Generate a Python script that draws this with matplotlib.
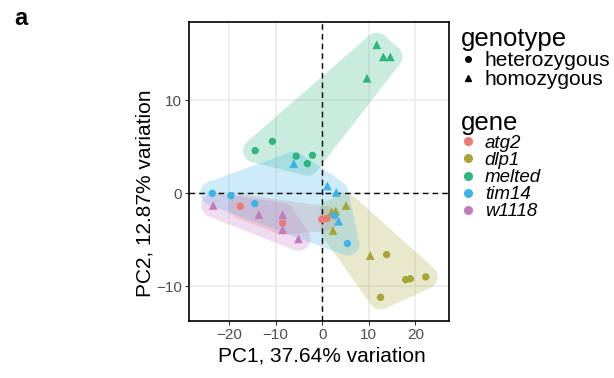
import matplotlib
matplotlib.use("Agg")
import matplotlib.pyplot as plt
import numpy as np
from matplotlib.lines import Line2D
from matplotlib.patches import Polygon

plt.rcParams["font.family"] = ["Liberation Sans", "DejaVu Sans"]

# PCA scores, per gene and genotype
GENES = ["atg2", "dlp1", "melted", "tim14", "w1118"]
COLORS = ["#EC7A72", "#A5A536", "#2DB67E", "#3DB2E8", "#C27BC0"]

atg2_het_x = [-17.6, -8.5, -0.1, 1.0]
atg2_het_y = [-1.4, -3.2, -2.8, -2.7]
atg2_hom_x = []
atg2_hom_y = []

dlp1_het_x = [13.8, 17.9, 18.9, 22.2, 12.5]
dlp1_het_y = [-6.6, -9.3, -9.2, -9.0, -11.2]
dlp1_hom_x = [2.0, 2.9, 5.1, 2.3, 10.3]
dlp1_hom_y = [-2.0, -1.9, -1.3, -4.0, -6.7]

melted_het_x = [-14.4, -10.7, -5.6, -3.2, -2.1]
melted_het_y = [4.6, 5.6, 4.0, 3.2, 4.1]
melted_hom_x = [11.7, 13.1, 14.6, 9.6]
melted_hom_y = [16.0, 14.7, 14.7, 12.4]

tim14_het_x = [-23.6, -19.6, -14.5, 2.6, 5.4]
tim14_het_y = [0.0, -0.25, -1.1, -2.4, -5.4]
tim14_hom_x = [-6.1, 1.1, 3.0, 3.5]
tim14_hom_y = [3.2, 0.8, 0.1, -3.0]

w1118_het_x = []
w1118_het_y = []
w1118_hom_x = [-23.4, -13.6, -8.5, -8.5, -5.1]
w1118_hom_y = [-1.3, -2.3, -2.3, -3.9, -4.9]

DATA = {
    "atg2": (atg2_het_x, atg2_het_y, atg2_hom_x, atg2_hom_y),
    "dlp1": (dlp1_het_x, dlp1_het_y, dlp1_hom_x, dlp1_hom_y),
    "melted": (melted_het_x, melted_het_y, melted_hom_x, melted_hom_y),
    "tim14": (tim14_het_x, tim14_het_y, tim14_hom_x, tim14_hom_y),
    "w1118": (w1118_het_x, w1118_het_y, w1118_hom_x, w1118_hom_y),
}

X_TICKS = [-20, -10, 0, 10, 20]
Y_TICKS = [-10, 0, 10]


def convex_hull(pts):
    """Monotone chain convex hull."""
    pts = sorted(map(tuple, pts))
    if len(pts) <= 2:
        return pts

    def cross(o, a, b):
        return (a[0] - o[0]) * (b[1] - o[1]) - (a[1] - o[1]) * (b[0] - o[0])

    lower, upper = [], []
    for p in pts:
        while len(lower) >= 2 and cross(lower[-2], lower[-1], p) <= 0:
            lower.pop()
        lower.append(p)
    for p in reversed(pts):
        while len(upper) >= 2 and cross(upper[-2], upper[-1], p) <= 0:
            upper.pop()
        upper.append(p)
    return lower[:-1] + upper[:-1]


def draw_hull(ax, xs, ys, color, radius=12):
    """Rounded hull around points, expanded by radius in pixels."""
    disp = ax.transData.transform(np.column_stack([xs, ys]))
    ang = np.linspace(0, 2 * np.pi, 48, endpoint=False)
    ring = np.column_stack([np.cos(ang), np.sin(ang)]) * radius
    cloud = np.vstack([p + ring for p in disp])
    hull = np.array(convex_hull(cloud))
    hull_data = ax.transData.inverted().transform(hull)
    ax.add_patch(Polygon(hull_data, closed=True, facecolor=color, alpha=0.25,
                         edgecolor="none", zorder=1))


fig = plt.figure(figsize=(6.14, 3.78), dpi=100)
ax = fig.add_axes([0.3078, 0.1495, 0.4235, 0.7910])
ax.set_xlim(-28.6, 27.2)
ax.set_ylim(-13.8, 18.4)

ax.set_xticks(X_TICKS)
ax.set_yticks(Y_TICKS)
ax.grid(True, color="#EBEBEB", linewidth=1.1, zorder=0)
ax.set_axisbelow(True)
for side in ax.spines.values():
    side.set_linewidth(1.2)
    side.set_color("black")
ax.tick_params(length=3, width=0.8, color="#333333", labelcolor="#4D4D4D",
               labelsize=11, pad=2)

for gene, color in zip(GENES, COLORS):
    hx, hy, mx, my = DATA[gene]
    draw_hull(ax, hx + mx, hy + my, color)

ax.axhline(0, color="black", linestyle=(0, (4, 3)), linewidth=1.0, zorder=2)
ax.axvline(0, color="black", linestyle=(0, (4, 3)), linewidth=1.0, zorder=2)

for gene, color in zip(GENES, COLORS):
    hx, hy, mx, my = DATA[gene]
    ax.scatter(hx, hy, s=28, marker="o", color=color, edgecolors="none", zorder=3)
    ax.scatter(mx, my, s=40, marker="^", color=color, edgecolors="none", zorder=3)

ax.set_xlabel("PC1, 37.64% variation", fontsize=15)
ax.set_ylabel("PC2, 12.87% variation", fontsize=15)
ax.xaxis.set_label_coords(0.51, -0.115)
ax.yaxis.set_label_coords(-0.169, 0.428)
ax.yaxis.label.set_va("center")
ax.xaxis.label.set_va("center")

fig.text(0.024, 0.95, "a", fontsize=17, fontweight="bold", va="center")

geno_handles = [
    Line2D([], [], marker="o", linestyle="none", color="black", markersize=4),
    Line2D([], [], marker="^", linestyle="none", color="black", markersize=5),
]
leg1 = ax.legend(geno_handles, ["heterozygous", "homozygous"], title="genotype",
                 loc="upper left", bbox_to_anchor=(1.045, 0.985), frameon=False,
                 fontsize=15, title_fontsize=18.5, alignment="left",
                 handlelength=0.7, handletextpad=0.45, labelspacing=0.0,
                 borderaxespad=0, borderpad=0)
ax.add_artist(leg1)

gene_handles = [Line2D([], [], marker="o", linestyle="none", color=c, markersize=5.5)
                for c in COLORS]
leg2 = ax.legend(gene_handles, GENES, title="gene",
                 loc="upper left", bbox_to_anchor=(1.045, 0.705), frameon=False,
                 prop={"size": 13.5, "style": "italic"}, title_fontsize=18.5,
                 alignment="left", handlelength=0.78, handletextpad=0.5,
                 labelspacing=0.0, borderaxespad=0, borderpad=0)

fig.savefig("out.png", dpi=100)
